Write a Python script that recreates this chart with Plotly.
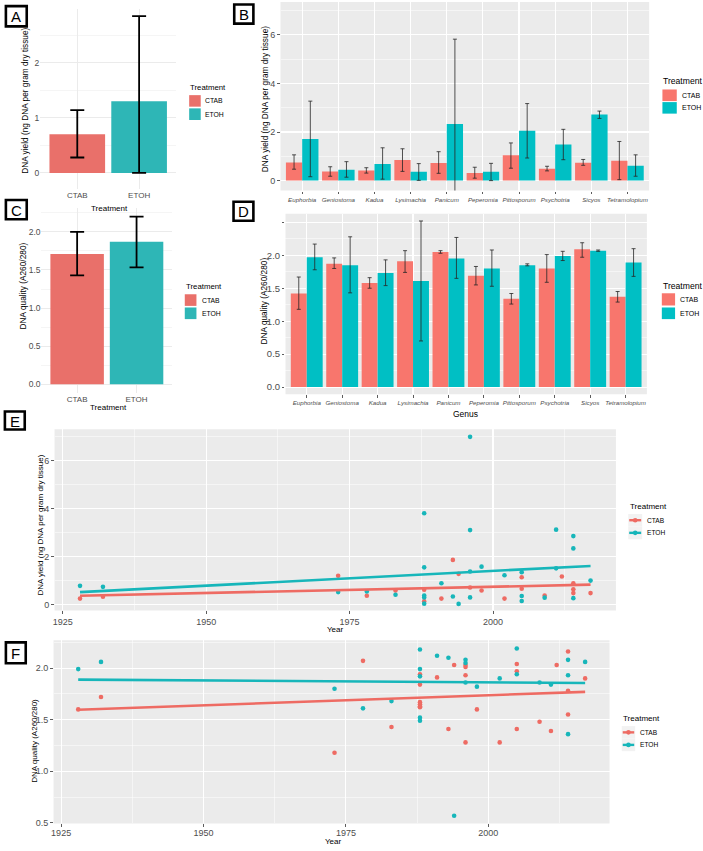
import plotly.graph_objects as go

W, H = 703, 851
def px(x): return x / W
def py(y): return 1 - y / H

FONT = "Liberation Sans, Arial, Helvetica, sans-serif"
TICKC = "#4D4D4D"

# ---------------- data ----------------
treatments = ["CTAB", "ETOH"]
genera = ["Euphorbia", "Geniostoma", "Kadua", "Lysimachia", "Panicum",
          "Peperomia", "Pittosporum", "Psychotria", "Sicyos", "Tetramolopium"]

# Panel A: DNA yield by treatment
a_mean = [0.70, 1.30]
a_lo = [0.28, 0.00]
a_hi = [1.14, 2.85]

# Panel B: DNA yield by genus
b_ctab_mean = [0.75, 0.37, 0.42, 0.85, 0.72, 0.31, 1.04, 0.49, 0.74, 0.82]
b_ctab_lo = [0.47, 0.18, 0.31, 0.38, 0.30, 0.10, 0.51, 0.40, 0.63, 0.04]
b_ctab_hi = [1.06, 0.57, 0.53, 1.31, 1.19, 0.55, 1.55, 0.59, 0.87, 1.61]
b_etoh_mean = [1.71, 0.45, 0.68, 0.36, 2.33, 0.36, 2.05, 1.49, 2.72, 0.61]
b_etoh_lo = [0.16, 0.14, 0.06, 0.01, -1.16, 0.00, 0.93, 0.86, 2.56, 0.18]
b_etoh_hi = [3.27, 0.78, 1.35, 0.70, 5.82, 0.71, 3.17, 2.11, 2.86, 1.06]

# Panel C: DNA quality by treatment
c_mean = [1.71, 1.87]
c_lo = [1.43, 1.535]
c_hi = [2.00, 2.20]

# Panel D: DNA quality by genus
d_ctab_mean = [1.42, 1.87, 1.58, 1.91, 2.05, 1.69, 1.34, 1.80, 2.09, 1.37]
d_ctab_lo = [1.18, 1.80, 1.50, 1.74, 2.03, 1.55, 1.26, 1.59, 1.97, 1.29]
d_ctab_hi = [1.67, 1.96, 1.66, 2.07, 2.07, 1.83, 1.42, 2.01, 2.19, 1.45]
d_etoh_mean = [1.97, 1.85, 1.73, 1.61, 1.95, 1.80, 1.85, 1.99, 2.07, 1.89]
d_etoh_lo = [1.78, 1.43, 1.54, 0.70, 1.65, 1.53, 1.84, 1.92, 2.06, 1.68]
d_etoh_hi = [2.17, 2.28, 1.93, 2.52, 2.27, 2.08, 1.87, 2.06, 2.08, 2.10]

# Panel E: DNA yield vs year
e_ctab_year = [1928, 1932, 1973, 1978, 1983, 1988, 1988, 1991, 1993, 1994, 1996,
               1998, 2002, 2005, 2005, 2009, 2012, 2014, 2014, 2014, 2017]
e_ctab_val = [0.25, 0.33, 1.20, 0.37, 0.59, 0.62, 0.14, 0.25, 1.86, 1.28, 0.71,
              0.59, 0.25, 1.14, 0.66, 0.38, 1.17, 0.89, 0.64, 0.48, 0.48]
e_etoh_year = [1928, 1932, 1973, 1978, 1983, 1988, 1988, 1988, 1988, 1988, 1991,
               1993, 1994, 1996, 1996, 1996, 1996, 1998, 2002, 2005, 2005, 2005,
               2009, 2011, 2011, 2014, 2014, 2014, 2017]
e_etoh_val = [0.78, 0.74, 0.52, 0.55, 0.41, 3.80, 1.55, 0.38, 0.30, 0.04, 0.89,
              0.34, 0.03, 6.98, 3.10, 1.38, 0.30, 1.58, 1.22, 1.35, 0.36, 0.15,
              0.29, 3.12, 1.51, 2.85, 2.34, 0.27, 1.00]
fit_years = [1928, 2017]
e_ctab_fit = [0.37, 0.83]
e_etoh_fit = [0.52, 1.61]

# Panel F: DNA quality vs year
f_ctab_year = [1928, 1932, 1973, 1978, 1983, 1988, 1988, 1988, 1988, 1988, 1988,
               1991, 1993, 1994, 1996, 1996, 1996, 1996, 1998, 2002, 2005, 2005,
               2005, 2009, 2011, 2012, 2014, 2014, 2014, 2017]
f_ctab_val = [1.60, 1.72, 1.18, 2.07, 1.43, 1.94, 1.84, 1.67, 1.65, 1.63, 1.62,
              1.91, 1.41, 2.03, 2.03, 2.01, 1.93, 1.28, 1.60, 1.28, 2.04, 1.97,
              1.41, 1.48, 1.39, 2.03, 2.16, 1.78, 1.55, 1.90]
f_etoh_year = [1928, 1932, 1973, 1978, 1983, 1988, 1988, 1988, 1988, 1988, 1991,
               1993, 1994, 1996, 1996, 1996, 1998, 2002, 2005, 2005, 2009, 2011,
               2014, 2014, 2014, 2017]
f_etoh_val = [1.99, 2.06, 1.80, 1.61, 1.68, 2.18, 1.99, 1.92, 1.52, 1.49, 2.12,
              2.10, 0.57, 2.08, 2.05, 1.86, 1.82, 1.90, 2.19, 1.94, 1.86, 1.84,
              2.08, 1.93, 1.36, 2.06]
f_ctab_fit = [1.596, 1.77]
f_etoh_fit = [1.888, 1.856]

# ---------------- styles ----------------
CTAB_C, ETOH_C = "#F8766D", "#00BFC4"
CTAB_A, ETOH_A = "#E9706A", "#2EB6B6"
CTAB_S, ETOH_S = "#EE6B63", "#17B6BA"
PANEL_BG = "#EBEBEB"

def err(mean, lo, hi, color, thick, w):
    return dict(type="data", symmetric=False,
                array=[h - m for m, h in zip(mean, hi)],
                arrayminus=[m - l for m, l in zip(mean, lo)],
                color=color, thickness=thick, width=w)

fig = go.Figure()

# A
fig.add_trace(go.Bar(x=treatments, y=a_mean, marker=dict(color=[CTAB_A, ETOH_A], line=dict(width=0)),
                     error_y=err(a_mean, a_lo, a_hi, "black", 1.8, 7),
                     xaxis="x", yaxis="y", showlegend=False))
# B
fig.add_trace(go.Bar(x=genera, y=b_ctab_mean, name="CTAB", marker=dict(color=CTAB_C, line=dict(width=0)),
                     error_y=err(b_ctab_mean, b_ctab_lo, b_ctab_hi, "#262626", 0.8, 2),
                     xaxis="x2", yaxis="y2", showlegend=False))
fig.add_trace(go.Bar(x=genera, y=b_etoh_mean, name="ETOH", marker=dict(color=ETOH_C, line=dict(width=0)),
                     error_y=err(b_etoh_mean, b_etoh_lo, b_etoh_hi, "#262626", 0.8, 2),
                     xaxis="x2", yaxis="y2", showlegend=False))
# C
fig.add_trace(go.Bar(x=treatments, y=c_mean, marker=dict(color=[CTAB_A, ETOH_A], line=dict(width=0)),
                     error_y=err(c_mean, c_lo, c_hi, "black", 1.8, 7),
                     xaxis="x3", yaxis="y3", showlegend=False))
# D
fig.add_trace(go.Bar(x=genera, y=d_ctab_mean, name="CTAB", marker=dict(color=CTAB_C, line=dict(width=0)),
                     error_y=err(d_ctab_mean, d_ctab_lo, d_ctab_hi, "#262626", 0.8, 2),
                     xaxis="x4", yaxis="y4", showlegend=False))
fig.add_trace(go.Bar(x=genera, y=d_etoh_mean, name="ETOH", marker=dict(color=ETOH_C, line=dict(width=0)),
                     error_y=err(d_etoh_mean, d_etoh_lo, d_etoh_hi, "#262626", 0.8, 2),
                     xaxis="x4", yaxis="y4", showlegend=False))
# E
for yrs, vals, col in [(e_ctab_year, e_ctab_val, CTAB_S), (e_etoh_year, e_etoh_val, ETOH_S)]:
    fig.add_trace(go.Scatter(x=yrs, y=vals, mode="markers", marker=dict(size=4.6, color=col),
                             xaxis="x5", yaxis="y5", showlegend=False))
for fit, col in [(e_ctab_fit, CTAB_S), (e_etoh_fit, ETOH_S)]:
    fig.add_trace(go.Scatter(x=fit_years, y=fit, mode="lines", line=dict(color=col, width=2.6),
                             xaxis="x5", yaxis="y5", showlegend=False))
# F
for yrs, vals, col in [(f_ctab_year, f_ctab_val, CTAB_S), (f_etoh_year, f_etoh_val, ETOH_S)]:
    fig.add_trace(go.Scatter(x=yrs, y=vals, mode="markers", marker=dict(size=4.6, color=col),
                             xaxis="x6", yaxis="y6", showlegend=False))
for fit, col in [(f_ctab_fit, CTAB_S), (f_etoh_fit, ETOH_S)]:
    fig.add_trace(go.Scatter(x=fit_years, y=fit, mode="lines", line=dict(color=col, width=2.6),
                             xaxis="x6", yaxis="y6", showlegend=False))

# ---------------- axes ----------------
def minimal_axis(**kw):
    d = dict(showgrid=True, gridcolor="#EBEBEB", gridwidth=1, zeroline=False, showline=False,
             ticks="", tickfont=dict(family=FONT, size=8.5, color=TICKC), fixedrange=True)
    d.update(kw)
    return d

def grey_axis(**kw):
    d = dict(showgrid=True, gridcolor="white", gridwidth=1.1, zeroline=False, showline=False,
             ticks="outside", ticklen=2.5, tickwidth=0.8, tickcolor="#333333",
             tickfont=dict(family=FONT, size=9, color=TICKC), fixedrange=True)
    d.update(kw)
    return d

layout_axes = dict(
    xaxis=minimal_axis(domain=[px(38.3), px(174.7)], anchor="y", type="category",
                       range=[-0.6, 1.6], tickfont=dict(family=FONT, size=8, color=TICKC)),
    yaxis=minimal_axis(domain=[py(190.5), py(9)], anchor="x", range=[-0.3, 2.98],
                       tick0=0, dtick=1,
                       minor=dict(showgrid=True, dtick=0.5, tick0=0, gridcolor="#EBEBEB", gridwidth=0.5)),
    xaxis2=grey_axis(domain=[px(279.3), px(649)], anchor="y2", type="category", range=[-0.6, 9.6],
                     tickfont=dict(family=FONT, size=6.2, color=TICKC, style="italic")),
    yaxis2=grey_axis(domain=[py(191.7), py(2)], anchor="x2", range=[-0.41, 7.35], tick0=0, dtick=2,
                     minor=dict(showgrid=True, dtick=1, tick0=0, gridcolor="white", gridwidth=0.5)),
    xaxis3=minimal_axis(domain=[px(39.6), px(170.7)], anchor="y3", type="category",
                        range=[-0.6, 1.6], tickfont=dict(family=FONT, size=8, color=TICKC)),
    yaxis3=minimal_axis(domain=[py(395), py(209.5)], anchor="x3", range=[-0.11, 2.31],
                        tick0=0, dtick=0.5, tickformat=".1f",
                        minor=dict(showgrid=True, dtick=0.25, tick0=0, gridcolor="#EBEBEB", gridwidth=0.5)),
    xaxis4=grey_axis(domain=[px(284.3), px(646.7)], anchor="y4", type="category", range=[-0.6, 9.6],
                     tickfont=dict(family=FONT, size=6.2, color=TICKC, style="italic")),
    yaxis4=grey_axis(domain=[py(396.7), py(215)], anchor="x4", range=[-0.11, 2.63],
                     tickvals=[0, 0.5, 1, 1.5, 2, 2.5],
                     ticktext=["0.0", "0.5", "1.0", "1.5", "2.0", ""],
                     tickfont=dict(family=FONT, size=9.5, color=TICKC),
                     minor=dict(showgrid=True, dtick=0.25, tick0=0, gridcolor="white", gridwidth=0.5)),
    xaxis5=grey_axis(domain=[px(52.7), px(615.7)], anchor="y5", range=[1923.56, 2021.43],
                     tick0=1925, dtick=25,
                     minor=dict(showgrid=True, dtick=12.5, tick0=1925, gridcolor="white", gridwidth=0.5)),
    yaxis5=grey_axis(domain=[py(614), py(431.7)], anchor="x5", range=[-0.24, 7.30], tick0=0, dtick=2,
                     minor=dict(showgrid=True, dtick=1, tick0=0, gridcolor="white", gridwidth=0.5)),
    xaxis6=grey_axis(domain=[px(51.7), px(609.3)], anchor="y6", range=[1923.67, 2021.29],
                     tick0=1925, dtick=25, ticklabelstandoff=-2,
                     minor=dict(showgrid=True, dtick=12.5, tick0=1925, gridcolor="white", gridwidth=0.5)),
    yaxis6=grey_axis(domain=[py(828.3), py(644)], anchor="x6", range=[0.495, 2.27],
                     tick0=0.5, dtick=0.5, tickformat=".1f",
                     minor=dict(showgrid=True, dtick=0.25, tick0=0.5, gridcolor="white", gridwidth=0.5)),
)

shapes = []
annotations = []

# grey panel backgrounds
for k in ["2", "4", "5", "6"]:
    shapes.append(dict(type="rect", xref=f"x{k} domain", yref=f"y{k} domain", x0=0, x1=1, y0=0, y1=1,
                       fillcolor=PANEL_BG, line=dict(width=0), layer="below"))

def text(x, y, s, size, color="black", xanchor="center", angle=0, **kw):
    annotations.append(dict(x=px(x), y=py(y), xref="paper", yref="paper", text=s, showarrow=False,
                            xanchor=xanchor, yanchor="middle", textangle=angle,
                            font=dict(family=FONT, size=size, color=color), **kw))

# panel letter boxes
for letter, (x0, y0, x1, y1) in {"A": (2.7, 5, 26, 27.7), "B": (231.7, 3.3, 253.3, 25),
                                 "C": (2.7, 200, 26, 221.7), "D": (231, 201.7, 253.3, 223.3),
                                 "E": (1.7, 412.7, 24, 433.3), "F": (2.7, 645, 25, 668.3)}.items():
    shapes.append(dict(type="rect", xref="paper", yref="paper", x0=px(x0 + 1.2), x1=px(x1 - 1.2),
                       y0=py(y1 - 1.2), y1=py(y0 + 1.2), fillcolor="white",
                       line=dict(color="black", width=2.6)))
    text((x0 + x1) / 2, (y0 + y1) / 2 + 0.5, letter, 15)

# axis titles
yield_title = "DNA yield (ng DNA per gram dry tissue)"
qual_title = "DNA quality (A260/280)"
text(23.5, 101, yield_title, 8.3, angle=-90)
text(264.5, 100, yield_title, 8.3, angle=-90)
text(21.2, 288, qual_title, 8.3, angle=-90)
text(262.5, 302.5, qual_title, 8.3, angle=-90)
text(38.5, 528.3, yield_title, 8, angle=-90)
text(32.3, 745, qual_title, 8, angle=-90)
text(108, 210, "Treatment", 8)
text(107, 410, "Treatment", 8)
text(465, 416, "Genus", 8.5)
text(334, 633, "Year", 8)
text(332, 846.5, "Year", 8)

# legends for bar panels
def bar_legend(tx, ty, sx0, sx1, rows, lx, colors, tsize, lsize):
    text(tx, ty, "Treatment", tsize, xanchor="left")
    for (y0, y1), col, lab in zip(rows, colors, treatments):
        shapes.append(dict(type="rect", xref="paper", yref="paper", x0=px(sx0), x1=px(sx1),
                           y0=py(y1), y1=py(y0), fillcolor=col, line=dict(width=0)))
        text(lx, (y0 + y1) / 2, lab, lsize, xanchor="left")

bar_legend(186.5, 88, 187.7, 199.3, [(95.7, 107.3), (109, 120.7)], 202, [CTAB_A, ETOH_A], 7.8, 6.8)
bar_legend(182.3, 288.3, 183.3, 195, [(296, 307.7), (309.3, 321)], 198.5, [CTAB_A, ETOH_A], 7.8, 6.8)
bar_legend(661, 81.7, 662.3, 676.7, [(90, 101.7), (102.7, 114.3)], 679.5, [CTAB_C, ETOH_C], 8.6, 7)
bar_legend(661, 287.3, 661.7, 675, [(295, 307.3), (309.3, 321)], 678, [CTAB_C, ETOH_C], 8.6, 7)

# legends for scatter panels
def line_legend(tx, ty, kx0, kx1, rows, lx, colors, tsize, lsize):
    text(tx, ty, "Treatment", tsize, xanchor="left")
    for (y0, y1), col, lab in zip(rows, colors, treatments):
        shapes.append(dict(type="rect", xref="paper", yref="paper", x0=px(kx0), x1=px(kx1),
                           y0=py(y1), y1=py(y0), fillcolor="#F2F2F2", line=dict(width=0)))
        yc = (y0 + y1) / 2
        shapes.append(dict(type="line", xref="paper", yref="paper", x0=px(kx0 + 1), x1=px(kx1 - 1),
                           y0=py(yc), y1=py(yc), line=dict(color=col, width=2.4)))
        xc = (kx0 + kx1) / 2
        shapes.append(dict(type="circle", xref="paper", yref="paper", x0=px(xc - 2.3), x1=px(xc + 2.3),
                           y0=py(yc + 2.3), y1=py(yc - 2.3), fillcolor=col, line=dict(width=0)))
        text(lx, yc, lab, lsize, xanchor="left")

line_legend(627.5, 509.3, 628, 642, [(517, 529.6), (529.6, 542.4)], 644.5, [CTAB_S, ETOH_S], 8, 6.6)
line_legend(621, 722.3, 621.5, 635, [(730.4, 743), (743, 755.6)], 637.5, [CTAB_S, ETOH_S], 8, 6.6)

fig.update_layout(
    width=W, height=H, autosize=False,
    margin=dict(l=0, r=0, t=0, b=0, pad=0),
    paper_bgcolor="white", plot_bgcolor="white",
    barmode="group", bargap=0.1, bargroupgap=0,
    hovermode=False, showlegend=False,
    font=dict(family=FONT, color="black"),
    shapes=shapes, annotations=annotations,
    **layout_axes,
)

fig.write_html("out.html", config={"displayModeBar": False, "staticPlot": True},
               post_script="document.body.style.margin='0';document.body.style.overflow='hidden';")
